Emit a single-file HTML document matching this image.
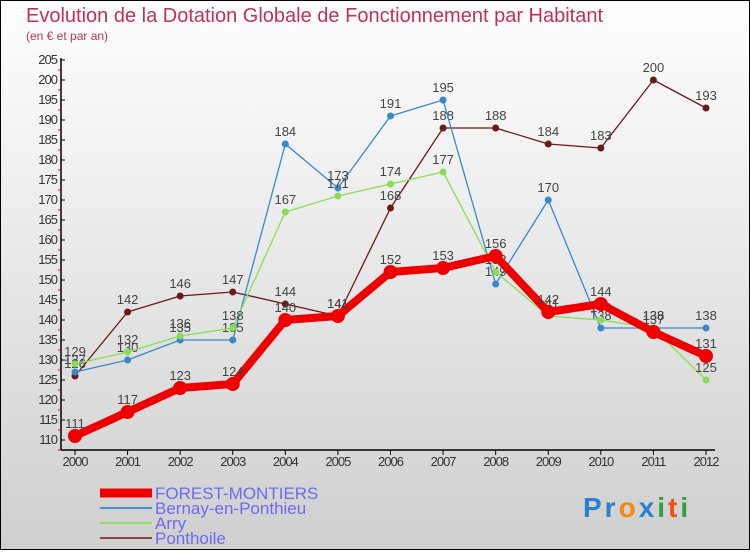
<!DOCTYPE html>
<html><head><meta charset="utf-8"><style>
body{margin:0;width:750px;height:550px;overflow:hidden;font-family:"Liberation Sans",sans-serif}
</style></head><body>
<svg id="c" width="750" height="550" xmlns="http://www.w3.org/2000/svg">
<defs><linearGradient id="bg" x1="0" y1="0" x2="0" y2="1"><stop offset="0" stop-color="#ffffff"/><stop offset="1" stop-color="#cfcfcf"/></linearGradient></defs>
<rect x="0.5" y="0.5" width="749" height="549" fill="url(#bg)" stroke="#000"/>
<text x="26" y="22" font-size="20" fill="#c0305a">Evolution de la Dotation Globale de Fonctionnement par Habitant</text>
<text x="26" y="40" font-size="12" fill="#c0305a">(en € et par an)</text>
<g id="axes"></g><g id="series"></g>
<g>
<line x1="100" y1="493" x2="152" y2="493" stroke="#e00" stroke-width="9"/>
<text x="155" y="499" font-size="17" fill="#6b6bf0">FOREST-MONTIERS</text>
<line x1="100" y1="508" x2="152" y2="508" stroke="#4a90d0" stroke-width="2"/>
<text x="155" y="514" font-size="17" fill="#6b6bf0">Bernay-en-Ponthieu</text>
<line x1="100" y1="523" x2="152" y2="523" stroke="#90dd60" stroke-width="2"/>
<text x="155" y="529" font-size="17" fill="#6b6bf0">Arry</text>
<line x1="100" y1="538" x2="152" y2="538" stroke="#884444" stroke-width="2"/>
<text x="155" y="544" font-size="17" fill="#6b6bf0">Ponthoile</text>
</g>
<text x="583" y="517" font-size="28" font-weight="bold" letter-spacing="3"><tspan fill="#2a80d0">Pr</tspan><tspan fill="#f08a10">o</tspan><tspan fill="#2a80d0">x</tspan><tspan fill="#30a040">i</tspan><tspan fill="#f05010">t</tspan><tspan fill="#30a040">i</tspan></text>
</svg>
<script>
const years=[2000,2001,2002,2003,2004,2005,2006,2007,2008,2009,2010,2011,2012];
const forest=[111,117,123,124,140,141,152,153,156,142,144,137,131];
const bernay=[127,130,135,135,184,173,191,195,149,170,138,138,138];
const arry=[129,132,136,138,167,171,174,177,152,141,140,138,125];
const ponthoile=[126,142,146,147,144,141,168,188,188,184,183,200,193];
const yTicks=[110,115,120,125,130,135,140,145,150,155,160,165,170,175,180,185,190,195,200,205];
const NS="http://www.w3.org/2000/svg";
const xs=i=>75+i*(706-75)/(years.length-1);
const ys=v=>440-(v-110)*4;
function mk(t,a,p){const e=document.createElementNS(NS,t);for(const k in a)e.setAttribute(k,a[k]);p.appendChild(e);return e;}
const ax=document.getElementById('axes');
let l=mk('line',{x1:61,y1:58,x2:61,y2:450,stroke:'#000','stroke-width':1.5},ax);


l=mk('line',{x1:61,y1:450,x2:715,y2:450,stroke:'#000','stroke-width':1.5},ax);


yTicks.forEach(v=>{mk('line',{x1:61,y1:ys(v),x2:65,y2:ys(v),stroke:'#000'},ax);
mk('line',{x1:58,y1:ys(v)+10,x2:61,y2:ys(v)+10,stroke:'#e00'},ax);
const t=mk('text',{x:57,y:ys(v)+4,'font-size':13,fill:'#333','text-anchor':'end','letter-spacing':'-1'},ax);t.textContent=v;

});
years.forEach((y,i)=>{mk('line',{x1:xs(i),y1:450,x2:xs(i),y2:455,stroke:'#000'},ax);
const t=mk('text',{x:xs(i),y:466,'font-size':13,fill:'#333','text-anchor':'middle','letter-spacing':'-1'},ax);t.textContent=y;

});
const sg=document.getElementById('series');
function draw(data,color,w,r,name){const g=mk('g',{},sg);


mk('polyline',{points:data.map((v,i)=>xs(i)+','+ys(v)).join(' '),fill:'none',stroke:color,'stroke-width':w,'stroke-linejoin':'round'},g);
data.forEach((v,i)=>{const c=mk('circle',{cx:xs(i),cy:ys(v),r:r,fill:color},g);


const t=mk('text',{x:xs(i),y:ys(v)-8,'font-size':13,fill:'#444','text-anchor':'middle'},g);t.textContent=v;

});}
draw(ponthoile,'#6a1a1a',1.3,3.5,'series-ponthoile');
draw(bernay,'#3a88cc',1.3,3.5,'series-bernay');
draw(arry,'#88dd55',1.3,3.5,'series-arry');
draw(forest,'#ee0000',8,7,'series-forest-montiers');
</script>
</body></html>
